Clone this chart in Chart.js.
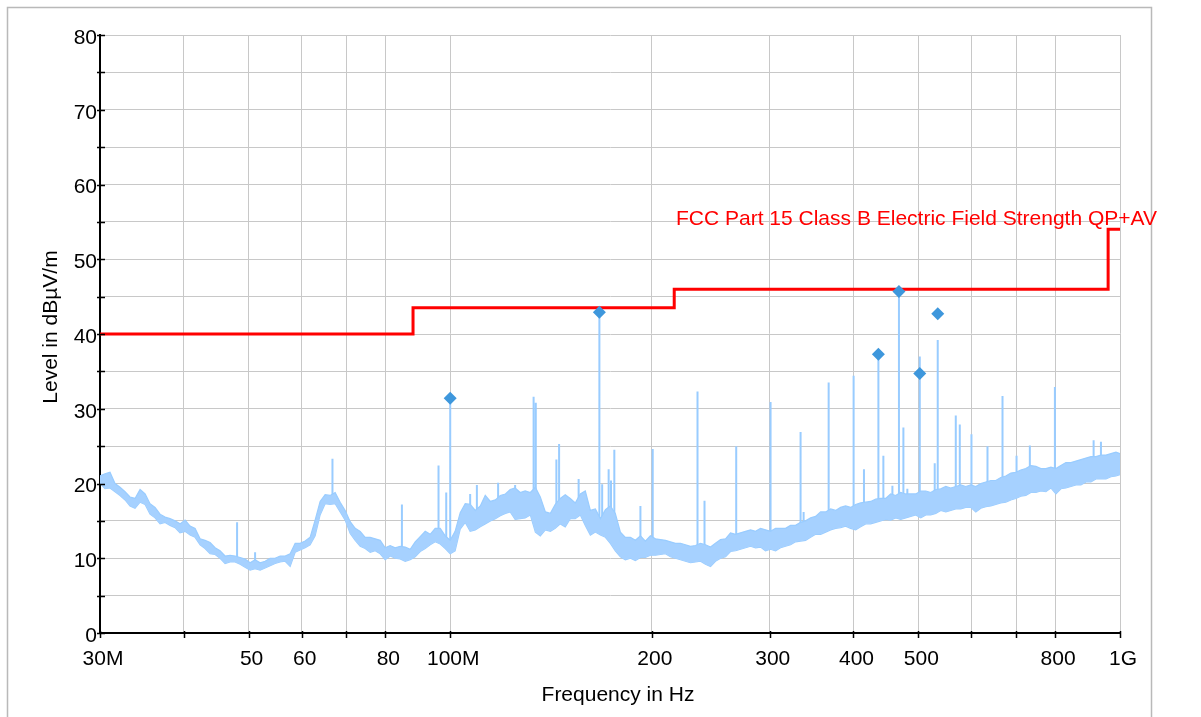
<!DOCTYPE html>
<html>
<head>
<meta charset="utf-8">
<script src="https://cdn.jsdelivr.net/npm/chart.js@4.4.1/dist/chart.umd.min.js"></script>
<style>
  html, body { margin: 0; padding: 0; background: #fff; }
</style>
</head>
<body>
<canvas id="chart" width="1201" height="717"></canvas>
<script>
// frequencies in MHz, levels in dBuV/m

const xTickValues = [30, 40, 50, 60, 70, 80, 100, 200, 300, 400, 500, 600, 700, 800, 1000];
const xTickLabels = ['30M', '', '50', '60', '', '80', '100M', '200', '300', '400', '500', '', '', '800', '1G'];

// noise floor envelope (lower / upper edge of the trace)
const bandFreq = [
  30.00, 30.52, 31.05, 31.59, 32.14, 32.70, 33.26, 33.84, 34.43, 35.03,
  35.63, 36.25, 36.88, 37.52, 38.17, 38.83, 39.50, 40.19, 40.89, 41.60,
  42.32, 43.05, 43.80, 44.56, 45.33, 46.12, 46.92, 47.73, 48.56, 49.40,
  50.26, 51.13, 52.02, 52.92, 53.84, 54.77, 55.73, 56.70, 57.68, 58.68,
  59.69, 60.73, 61.78, 62.85, 63.94, 65.05, 66.18, 67.33, 68.50, 69.69,
  70.90, 72.13, 73.38, 74.65, 75.95, 77.27, 78.60, 79.96, 81.35, 82.76,
  84.20, 85.66, 87.15, 88.66, 90.20, 91.77, 93.35, 94.97, 96.62, 98.30,
  100.0, 101.7, 103.5, 105.3, 107.1, 109.0, 110.9, 112.8, 114.8, 116.8,
  118.8, 120.9, 122.9, 125.0, 127.2, 129.4, 131.7, 134.0, 136.3, 138.7,
  141.1, 143.5, 146.0, 148.5, 151.1, 153.7, 156.4, 159.1, 161.9, 164.7,
  167.6, 170.5, 173.4, 176.4, 179.5, 182.6, 185.8, 189.0, 192.3, 195.6,
  199.0, 202.5, 206.0, 209.6, 213.2, 216.9, 220.7, 224.5, 228.4, 232.4,
  236.4, 240.5, 244.7, 248.9, 253.3, 257.7, 262.1, 266.7, 271.3, 276.0,
  280.8, 285.7, 290.6, 295.6, 300.8, 306.0, 311.3, 316.7, 322.2, 327.8,
  333.5, 339.3, 345.2, 351.2, 357.3, 363.5, 369.8, 376.2, 382.7, 389.3,
  396.1, 403.0, 410.0, 417.1, 424.4, 431.8, 439.2, 446.8, 454.6, 462.5,
  470.5, 478.7, 487.0, 495.5, 504.1, 512.9, 521.7, 530.8, 540.0, 549.4,
  558.9, 568.6, 578.4, 588.4, 598.7, 609.1, 619.7, 630.5, 641.4, 652.5,
  663.8, 675.3, 687.1, 699.0, 711.1, 723.4, 736.0, 748.8, 761.8, 775.0,
  788.5, 802.2, 816.1, 830.3, 844.7, 859.4, 874.3, 889.5, 904.9, 920.6,
  936.6, 952.9, 969.4, 986.2, 1000
];
const bandLow = [
  20.0, 19.3, 19.4, 18.9, 18.4, 17.8, 17.0, 16.7, 17.5, 17.2,
  15.9, 15.4, 14.6, 14.8, 14.4, 14.1, 13.4, 13.6, 13.1, 12.8,
  11.8, 11.3, 10.6, 10.5, 10.0, 9.3, 9.5, 9.5, 9.2, 8.8,
  8.4, 8.6, 8.4, 8.7, 9.0, 9.3, 9.5, 9.6, 8.9, 10.8,
  11.1, 11.4, 11.8, 13.0, 15.8, 17.3, 17.2, 17.3, 16.2, 15.1,
  13.3, 12.4, 11.6, 11.3, 10.8, 11.0, 10.6, 9.8, 10.3, 10.0,
  9.9, 9.6, 9.8, 10.2, 10.9, 11.3, 11.8, 12.2, 11.9, 11.3,
  10.6, 11.0, 13.9, 14.8, 13.6, 13.8, 14.2, 14.6, 15.0, 15.3,
  15.7, 16.0, 16.2, 15.2, 15.3, 15.4, 15.8, 13.5, 13.0, 13.8,
  13.6, 14.0, 14.6, 14.2, 15.3, 15.3, 15.8, 14.4, 13.1, 13.5,
  13.1, 12.8, 12.0, 11.0, 10.2, 9.8, 10.0, 9.7, 10.1, 10.1,
  10.4, 10.4, 10.5, 10.6, 10.2, 10.0, 9.8, 9.6, 9.4, 9.5,
  9.6, 9.2, 8.9, 9.6, 10.0, 10.2, 10.9, 11.0, 11.2, 11.4,
  11.6, 11.4, 11.5, 11.0, 11.2, 11.0, 11.4, 11.6, 11.8, 12.2,
  12.3, 12.4, 12.8, 13.2, 13.2, 13.5, 13.8, 14.0, 14.1, 14.3,
  14.0, 13.8, 14.2, 14.6, 14.6, 14.8, 15.0, 15.2, 15.1, 15.4,
  15.2, 15.4, 15.6, 15.8, 15.4, 15.8, 15.8, 16.0, 16.4, 16.2,
  16.4, 16.6, 16.6, 16.8, 16.8, 16.2, 16.7, 16.9, 17.0, 17.2,
  17.4, 17.5, 17.8, 18.0, 18.3, 18.4, 18.8, 18.8, 19.0, 18.9,
  19.4, 18.6, 19.3, 19.4, 19.6, 19.8, 19.8, 20.2, 20.2, 20.6,
  20.6, 20.6, 20.9, 21.0, 21.2
];
const bandHigh = [
  21.0, 21.3, 21.5, 20.0, 19.5, 18.9, 18.2, 18.0, 19.2, 18.6,
  17.3, 16.8, 15.9, 15.5, 15.3, 15.0, 14.6, 15.1, 14.3, 14.0,
  12.6, 12.4, 12.1, 11.4, 11.0, 10.3, 10.4, 10.3, 10.1, 9.9,
  9.4, 9.8, 9.4, 9.6, 10.0, 10.0, 10.3, 10.3, 10.6, 12.0,
  12.0, 12.3, 12.8, 15.1, 17.6, 18.5, 18.4, 18.8, 17.5, 16.4,
  14.9, 14.0, 13.6, 12.8, 12.8, 12.6, 12.4, 11.4, 11.7, 11.4,
  11.6, 11.5, 11.2, 12.2, 12.9, 13.6, 13.2, 14.0, 14.0, 13.0,
  12.4, 13.6, 16.1, 17.3, 17.2, 16.4, 17.0, 18.4, 17.6, 17.8,
  18.4, 18.6, 19.2, 19.4, 18.8, 19.0, 18.8, 19.5, 18.2, 16.2,
  16.0, 17.2, 18.0, 18.5, 18.0, 17.4, 18.6, 19.0, 16.4, 16.6,
  15.3, 16.5, 17.0, 16.0, 13.5, 12.8, 12.8, 12.4, 13.0, 12.3,
  13.0, 12.6, 12.5, 12.4, 12.2, 12.0, 12.0, 11.8, 11.6, 11.7,
  12.0, 11.8, 11.5, 12.0, 12.5, 12.6, 13.4, 13.2, 13.4, 13.6,
  13.8, 13.6, 14.0, 13.8, 13.6, 14.0, 14.0, 14.0, 14.4, 14.4,
  14.8, 15.0, 15.4, 15.6, 16.2, 16.2, 16.6, 16.4, 16.8, 17.0,
  16.8, 17.2, 17.4, 17.5, 17.6, 17.9, 18.0, 18.0, 18.6, 18.4,
  18.8, 18.6, 18.6, 18.6, 19.0, 19.0, 18.8, 19.2, 19.3, 19.6,
  19.4, 19.6, 19.8, 19.6, 19.8, 19.6, 20.0, 20.2, 20.4, 20.4,
  20.8, 21.0, 21.4, 21.5, 21.8, 22.0, 22.4, 22.3, 22.0, 22.0,
  22.2, 22.0, 22.4, 22.8, 22.8, 23.0, 23.2, 23.4, 23.6, 23.6,
  23.8, 23.8, 24.0, 24.2, 24.0
];

// narrow emissions standing out of the floor
const spikeFreq = [
  48.06, 51.13, 66.71, 84.70, 96.06, 98.64, 100.0, 107.1, 109.6, 117.9,
  125.0, 133.2, 134.2, 144.05, 145.4, 155.5, 167.0, 168.6, 172.4, 173.8,
  175.8, 192.3, 200.6, 234.0, 239.7, 267.3, 300.8, 333.5, 337.0, 367.3,
  400.2, 414.7, 435.8, 443.3, 457.3, 467.7, 474.9, 481.4, 502.4, 528.9,
  534.4, 568.6, 576.5, 600.1, 634.1, 667.7, 700.7, 733.5, 799.5, 913.3,
  936.6
];
const spikeBase = [
  9.8, 9.0, 18.0, 10.5, 12.5, 12.0, 11.0, 15.0, 15.0, 16.0,
  16.0, 17.0, 17.0, 15.0, 15.0, 16.0, 14.0, 14.0, 14.0, 14.0,
  13.0, 11.5, 11.5, 11.0, 11.0, 12.0, 12.5, 13.5, 13.5, 15.0,
  15.5, 15.5, 16.0, 16.0, 16.5, 16.5, 16.5, 16.5, 17.0, 17.0,
  17.0, 17.5, 17.5, 18.0, 18.5, 19.0, 19.5, 20.0, 20.5, 21.5,
  21.5
];
const spikeTop = [
  14.8, 10.8, 23.3, 17.2, 22.4, 18.8, 31.4, 18.6, 19.8, 20.1,
  19.8, 31.6, 30.8, 23.2, 25.3, 20.6, 42.9, 19.9, 21.9, 20.4,
  24.5, 17.0, 24.6, 32.3, 17.7, 25.0, 30.9, 26.9, 16.2, 33.5,
  34.4, 21.9, 37.3, 23.7, 19.7, 45.7, 27.5, 19.3, 37.0, 22.7,
  39.2, 29.1, 27.9, 26.6, 25.0, 31.7, 23.7, 25.1, 32.9, 25.8,
  25.6
];

// final measurement points
const markerFreq = [100.0, 167.0, 435.8, 467.7, 502.4, 534.4];
const markerLevel = [31.4, 42.9, 37.3, 45.7, 34.7, 42.7];

// FCC Part 15 Class B limit
const limitFreq = [30, 88, 88, 216, 216, 960, 960, 1000];
const limitLevel = [40, 40, 43.5, 43.5, 46, 46, 54, 54];
const limitName = 'FCC Part 15 Class B Electric Field Strength QP+AV';

const FONT = '"Liberation Sans", Arial, Helvetica, sans-serif';
Chart.defaults.font.family = FONT;
Chart.defaults.color = '#000';

const TRACE = '#99ccff';

const spikePoints = [];
spikeFreq.forEach((f, i) => {
  spikePoints.push({ x: f, y: spikeBase[i] });
  spikePoints.push({ x: f, y: spikeTop[i] });
  spikePoints.push({ x: f, y: null });
});

// frame, black tick marks, axis titles, limit name
const decor = {
  id: 'decor',
  beforeDraw(chart) {
    const ctx = chart.ctx;
    ctx.save();
    ctx.fillStyle = '#fff';
    ctx.fillRect(0, 0, chart.width, chart.height);
    ctx.strokeStyle = '#b9b9b9';
    ctx.lineWidth = 1.5;
    ctx.strokeRect(7.5, 7.5, 1144, 740);
    ctx.restore();
  },
  afterDraw(chart) {
    const ctx = chart.ctx;
    const xs = chart.scales.x, ys = chart.scales.y;
    const a = chart.chartArea;
    ctx.save();
    ctx.strokeStyle = '#000';
    ctx.lineWidth = 1.5;
    ctx.beginPath();
    ys.ticks.forEach(t => {
      const y = Math.round(ys.getPixelForValue(t.value)) + 0.5;
      ctx.moveTo(a.left - 3, y);
      ctx.lineTo(a.left + 5, y);
    });
    xs.ticks.forEach(t => {
      const x = Math.round(xs.getPixelForValue(t.value)) + 0.5;
      ctx.moveTo(x, a.bottom - 2);
      ctx.lineTo(x, a.bottom + 5);
    });
    ctx.stroke();

    ctx.fillStyle = '#000';
    ctx.font = '21px ' + FONT;
    ctx.textAlign = 'center';
    ctx.textBaseline = 'alphabetic';
    ctx.fillText('Frequency in Hz', 618, 701);
    ctx.save();
    ctx.translate(57, 327);
    ctx.rotate(-Math.PI / 2);
    ctx.fillText('Level in dBµV/m', 0, 0);
    ctx.restore();

    ctx.fillStyle = '#ff0000';
    ctx.textAlign = 'left';
    ctx.fillText(limitName, 676, 225);
    ctx.restore();
  }
};

new Chart(document.getElementById('chart'), {
  type: 'line',
  data: {
    datasets: [
      {
        label: 'floor low',
        data: bandFreq.map((f, i) => ({ x: f, y: bandLow[i] })),
        borderColor: TRACE,
        borderWidth: 1.2,
        pointRadius: 0,
        fill: false,
        order: 4
      },
      {
        label: 'floor high',
        data: bandFreq.map((f, i) => ({ x: f, y: bandHigh[i] })),
        borderColor: TRACE,
        backgroundColor: '#a6d1ff',
        borderWidth: 1.2,
        pointRadius: 0,
        fill: '-1',
        order: 3
      },
      {
        label: 'peaks',
        data: spikePoints,
        borderColor: TRACE,
        borderWidth: 2,
        pointRadius: 0,
        spanGaps: false,
        fill: false,
        order: 5
      },
      {
        label: limitName,
        data: limitFreq.map((f, i) => ({ x: f, y: limitLevel[i] })),
        borderColor: '#ff0000',
        borderWidth: 3,
        pointRadius: 0,
        fill: false,
        order: 1
      },
      {
        label: 'final',
        data: markerFreq.map((f, i) => ({ x: f, y: markerLevel[i] })),
        showLine: false,
        pointStyle: 'rectRot',
        pointRadius: 6.5,
        pointBackgroundColor: '#3e97dc',
        pointBorderColor: '#3e97dc',
        pointBorderWidth: 0,
        order: 0
      }
    ]
  },
  options: {
    responsive: false,
    animation: false,
    events: [],
    layout: { padding: { left: 0, top: 35, right: 81, bottom: 0 } },
    plugins: { legend: { display: false }, tooltip: { enabled: false } },
    scales: {
      x: {
        type: 'logarithmic',
        min: 30,
        max: 1000,
        afterBuildTicks: s => { s.ticks = xTickValues.map(v => ({ value: v })); },
        afterFit: s => { s.height = 84; },
        ticks: {
          autoSkip: false,
          maxRotation: 0,
          padding: 14,
          labelOffset: 3,
          font: { size: 21 },
          callback: (v, i) => xTickLabels[i]
        },
        grid: { color: '#c8c8c8', lineWidth: 1, drawTicks: false },
        border: { color: '#000', width: 2 }
      },
      y: {
        type: 'linear',
        min: 0,
        max: 80,
        afterFit: s => { s.width = 100; },
        ticks: {
          stepSize: 5,
          padding: 3,
          labelOffset: 3,
          font: { size: 21 },
          callback: v => (v % 10 === 0 ? v : '')
        },
        grid: { color: '#c8c8c8', lineWidth: 1, drawTicks: false },
        border: { color: '#000', width: 2 }
      }
    }
  },
  plugins: [decor]
});
</script>
</body>
</html>
